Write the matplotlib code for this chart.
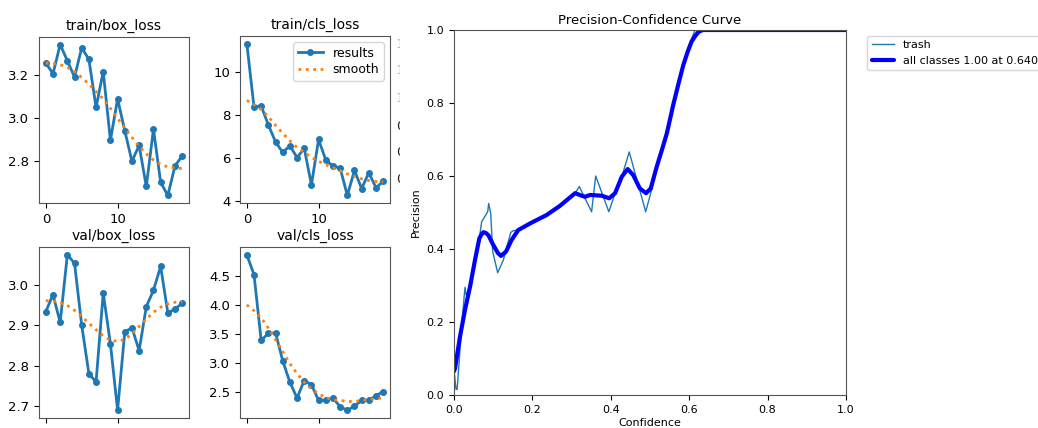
import matplotlib
matplotlib.use("Agg")
import matplotlib.pyplot as plt
from matplotlib.transforms import Bbox

# ---------------- data ----------------
epochs = list(range(20))

train_box_loss = [3.258, 3.208, 3.344, 3.269, 3.192, 3.329, 3.275, 3.051, 3.218, 2.898,
                  3.091, 2.943, 2.800, 2.874, 2.683, 2.949, 2.702, 2.641, 2.779, 2.825]
train_box_smooth = [3.258, 3.256, 3.250, 3.238, 3.218, 3.190, 3.160, 3.125, 3.090, 3.047,
                    3.000, 2.955, 2.912, 2.870, 2.835, 2.806, 2.786, 2.774, 2.769, 2.766]

train_cls_loss = [11.32, 8.38, 8.42, 7.54, 6.75, 6.26, 6.57, 6.02, 6.45, 4.75,
                  6.86, 5.91, 5.62, 5.54, 4.26, 5.42, 4.58, 5.31, 4.62, 4.91]
train_cls_smooth = [8.68, 8.49, 8.26, 7.92, 7.52, 7.15, 6.80, 6.49, 6.26, 6.03,
                    5.85, 5.69, 5.55, 5.40, 5.26, 5.14, 5.03, 4.95, 4.91, 4.89]

val_box_loss = [2.934, 2.976, 2.907, 3.075, 3.054, 2.900, 2.780, 2.759, 2.980, 2.854,
                2.689, 2.883, 2.894, 2.837, 2.946, 2.987, 3.046, 2.931, 2.940, 2.955]
val_box_smooth = [2.961, 2.960, 2.956, 2.949, 2.937, 2.922, 2.905, 2.889, 2.873, 2.863,
                  2.860, 2.865, 2.878, 2.897, 2.915, 2.932, 2.945, 2.953, 2.957, 2.958]

val_cls_loss = [4.86, 4.52, 3.39, 3.51, 3.52, 3.04, 2.67, 2.40, 2.70, 2.63,
                2.36, 2.36, 2.40, 2.25, 2.19, 2.26, 2.36, 2.36, 2.44, 2.51]
val_cls_smooth = [4.00, 3.90, 3.78, 3.60, 3.40, 3.20, 2.99, 2.82, 2.67, 2.56,
                  2.47, 2.41, 2.37, 2.36, 2.34, 2.34, 2.36, 2.37, 2.39, 2.40]

panel_titles = ["train/box_loss", "train/cls_loss", "val/box_loss", "val/cls_loss"]

# cut-off tick labels of the neighbouring (cropped) panel
cut_labels = ["1", "1", "1", "0", "0", "0"]

# Precision-Confidence curve
trash_conf = [0.0, 0.005, 0.008, 0.015, 0.022, 0.028, 0.031, 0.041, 0.0536, 0.0646, 0.0706,
              0.086, 0.0885, 0.0936, 0.0987, 0.1114, 0.126, 0.1446, 0.151, 0.164, 0.194,
              0.236, 0.27, 0.309, 0.3197, 0.351, 0.3614, 0.395, 0.411, 0.428, 0.447,
              0.489, 0.504, 0.517, 0.53, 0.543, 0.5595, 0.572, 0.585, 0.598, 0.615, 1.0]
trash_prec = [0.07, 0.016, 0.015, 0.12, 0.22, 0.295, 0.274, 0.297, 0.37, 0.429, 0.475,
              0.502, 0.525, 0.498, 0.393, 0.335, 0.37, 0.445, 0.45, 0.452, 0.47,
              0.493, 0.518, 0.553, 0.571, 0.502, 0.60, 0.502, 0.553, 0.598, 0.666,
              0.502, 0.562, 0.625, 0.67, 0.717, 0.796, 0.85, 0.904, 0.954, 1.0, 1.0]

all_conf = [0.0, 0.0026, 0.0153, 0.028, 0.041, 0.0536, 0.0646, 0.07, 0.0748, 0.081, 0.0876,
            0.1003, 0.112, 0.12, 0.1327, 0.147, 0.164, 0.194, 0.236, 0.27, 0.309, 0.321,
            0.334, 0.347, 0.377, 0.396, 0.411, 0.428, 0.443, 0.457, 0.474, 0.49,
            0.502, 0.517, 0.53, 0.543, 0.5595, 0.572, 0.585, 0.596, 0.606, 0.615, 0.623,
            0.63, 0.636, 1.0]
all_prec = [0.065, 0.073, 0.16, 0.233, 0.297, 0.37, 0.429, 0.44, 0.446, 0.444, 0.438,
            0.411, 0.389, 0.381, 0.393, 0.425, 0.452, 0.47, 0.493, 0.518, 0.553, 0.548,
            0.543, 0.548, 0.546, 0.539, 0.553, 0.598, 0.619, 0.603, 0.566, 0.553,
            0.566, 0.625, 0.67, 0.717, 0.796, 0.85, 0.904, 0.94, 0.968, 0.983, 0.994,
            0.998, 1.0, 1.0]

pc_ticks = [0.0, 0.2, 0.4, 0.6, 0.8, 1.0]

# ---------------- figure ----------------
W, H = 1038, 428
fig = plt.figure(figsize=(W / 100, H / 100), dpi=100)

def fr(left, top, right, bottom):
    return [left / W, 1 - bottom / H, (right - left) / W, (bottom - top) / H]

rects = [fr(39, 37, 189, 203), fr(240, 36, 390, 203),
         fr(39, 247, 189, 418), fr(240, 247, 390, 418)]
series = [(train_box_loss, train_box_smooth), (train_cls_loss, train_cls_smooth),
          (val_box_loss, val_box_smooth), (val_cls_loss, val_cls_smooth)]

for i, (rect, (y, ys), title) in enumerate(zip(rects, series, panel_titles)):
    ax = fig.add_axes(rect)
    ax.plot(epochs, y, marker='.', linewidth=2, markersize=8, color='C0', label='results')
    ax.plot(epochs, ys, ':', linewidth=2, color='C1', label='smooth')
    ax.set_title(title, fontsize=10, pad=5)
    ax.tick_params(labelsize=9.5)
    ax.set_xticks([0, 10])
    for sp in ax.spines.values():
        sp.set_color('#555555')
    if i == 1:
        ax.legend(loc='upper right', fontsize=9, handlelength=2.0, borderpad=0.35,
                  labelspacing=0.3)

# slivers of the cropped neighbouring panel's tick labels
clip = Bbox.from_extents(394, 0, 399.5, H)
for k, (lab, ypix) in enumerate(zip(cut_labels, [44, 71, 98, 127, 153, 180])):
    t = fig.text(396 / W, 1 - ypix / H, lab + ".0", fontsize=9.5, ha='left', va='center',
                 color='#222222' if k >= 3 else '#bbbbbb')
    t.set_clip_box(clip)
    t.set_clip_on(True)

# PC curve
axp = fig.add_axes(fr(454, 30, 846, 395))
axp.plot(trash_conf, trash_prec, linewidth=1, color='C0', label='trash')
axp.plot(all_conf, all_prec, linewidth=3, color='blue', label='all classes 1.00 at 0.640',
         solid_joinstyle='round', solid_capstyle='round')
axp.set_xlim(0, 1)
axp.set_ylim(0, 1)
axp.set_xticks(pc_ticks)
axp.set_yticks(pc_ticks)
axp.tick_params(labelsize=8)
axp.set_xlabel('Confidence', fontsize=8, labelpad=2)
axp.set_ylabel('Precision', fontsize=8)
axp.set_title('Precision-Confidence Curve', fontsize=9.5, pad=4)
for sp in axp.spines.values():
    sp.set_color('#555555')
axp.legend(bbox_to_anchor=(1.04, 1), loc='upper left', fontsize=8)

fig.savefig('out.png', dpi=100)
